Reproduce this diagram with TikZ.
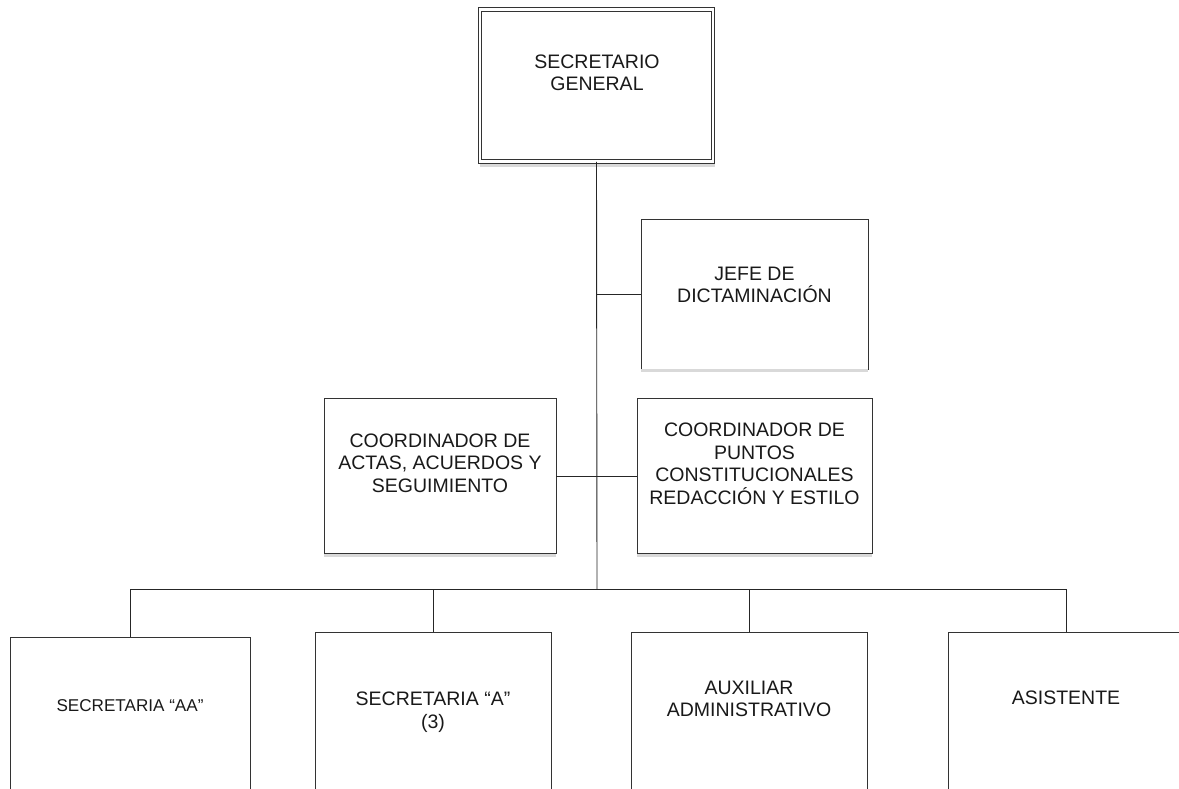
\documentclass[tikz,border=0pt]{standalone}
\usepackage{fontspec}
\setmainfont{Liberation Sans}
\begin{document}
\begin{tikzpicture}[x=1pt,y=-1pt,
  box/.style={draw=black!80, line width=0.9pt, fill=white, rectangle, inner sep=0pt},
  lbl/.style={inner sep=0pt, align=center, text=black!90,
              font=\fontsize{19.5}{22.7}\selectfont},
  smalllbl/.style={inner sep=0pt, align=center, text=black!90,
              font=\fontsize{17.1}{20}\selectfont},
  wire/.style={draw=black!85, line width=0.9pt},
  shade/.style={fill=black!15}]
\path[use as bounding box] (0,0) rectangle (1179,789);
\clip (0,0) rectangle (1179,789);

% head of the office (double frame)
\fill[shade] (480,163) rectangle (715,167);
\node[box, double, double distance=2.6pt, minimum width=233pt, minimum height=152pt]
  (sg) at (596.5,85.5) {};
\node[lbl] (sgt) at (597,72.9) {SECRETARIO\\GENERAL};

% staff boxes hanging from the spine
\node[box, minimum width=227pt, minimum height=150pt] (jefe) at (754.5,294) {};
\fill[shade] (jefe.south west) rectangle ([yshift=-3pt]jefe.south east);
\node[lbl] (jefet) at (754.5,285) {JEFE DE\\DICTAMINACIÓN};

\node[box, minimum width=232pt, minimum height=155pt] (actas) at (440,476) {};
\fill[shade] (actas.south west) rectangle ([yshift=-3pt]actas.south east);
\node[lbl] (actast) at (440,463) {COORDINADOR DE\\ACTAS, ACUERDOS Y\\SEGUIMIENTO};

\node[box, minimum width=235pt, minimum height=155pt] (puntos) at (754.5,476) {};
\fill[shade] (puntos.south west) rectangle ([yshift=-3pt]puntos.south east);
\node[lbl] (puntost) at (754.5,463.7) {COORDINADOR DE\\PUNTOS\\CONSTITUCIONALES\\REDACCIÓN Y ESTILO};

% bottom row
\node[box, minimum width=240pt, minimum height=200pt] (b1) at (130,737) {};
\node[smalllbl] (b1t) at (130,706) {SECRETARIA “AA”};
\node[box, minimum width=236pt, minimum height=200pt] (b2) at (433,732) {};
\node[lbl] (b2t) at (433,712) {SECRETARIA “A”\\(3)};
\node[box, minimum width=236pt, minimum height=200pt] (b3) at (749,732) {};
\node[lbl] (b3t) at (749,699) {AUXILIAR\\ADMINISTRATIVO};
\node[box, minimum width=236pt, minimum height=200pt] (b4) at (1066,732) {};
\node[lbl] (b4t) at (1066,698) {ASISTENTE};

% connectors
\coordinate (bus) at (597,589);
\draw[wire] (sg.south) -- (bus);
\draw[wire] (jefe.west) -- (jefe.west -| bus);
\draw[wire] (actas.east) -- (puntos.west);
\draw[wire] (b1.north) -- (b1.north |- bus) -- (b4.north |- bus) -- (b4.north);
\draw[wire] (b2.north) -- (b2.north |- bus);
\draw[wire] (b3.north) -- (b3.north |- bus);
\end{tikzpicture}
\end{document}
